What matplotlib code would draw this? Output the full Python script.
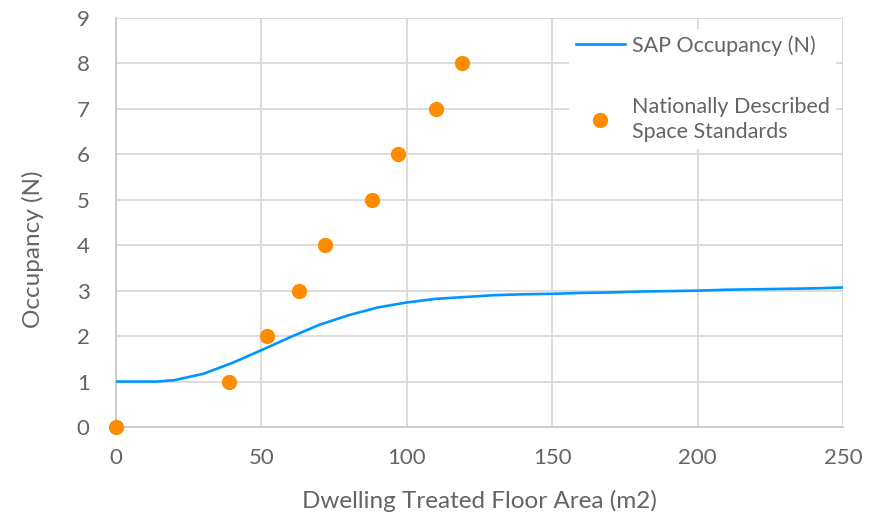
import matplotlib
matplotlib.use("Agg")
import matplotlib.pyplot as plt

# SAP occupancy curve
sap_area = [0, 10, 14, 20, 30, 40, 50, 60, 70, 80, 90, 100, 110, 120, 130, 140,
            150, 160, 170, 180, 190, 200, 210, 220, 230, 240, 250]
sap_occ = [1.0, 1.0, 1.0, 1.03, 1.17, 1.41, 1.69, 1.98, 2.25, 2.46, 2.63, 2.74,
           2.82, 2.86, 2.90, 2.92, 2.93, 2.95, 2.96, 2.98, 2.99, 3.00, 3.02,
           3.03, 3.04, 3.05, 3.07]

# Nationally Described Space Standards points
ndss_area = [0, 39, 52, 63, 72, 88, 97, 110, 119]
ndss_occ = [0, 1, 2, 3, 4, 5, 6, 7, 8]

plt.rcParams['font.family'] = ['Lato', 'DejaVu Sans']
text_col = '#646464'
grid_col = '#d9d9d9'

fig = plt.figure(figsize=(8.83, 5.12), dpi=100)
ax = fig.add_axes([0.1314, 0.166, 0.8233, 0.799])

ax.plot(sap_area, sap_occ, color='#0096ff', lw=1.9, label='SAP Occupancy (N)', zorder=3)
ax.plot(ndss_area, ndss_occ, 'o', color='#ff8c00', ms=11, mec='none',
        label='Nationally Described\nSpace Standards', zorder=4, clip_on=False)

ax.set_xlim(0, 250)
ax.set_ylim(0, 9)
ax.set_xticks(range(0, 251, 50))
ax.set_yticks(range(0, 10))
ax.grid(True, color=grid_col, lw=1.3)
ax.set_axisbelow(True)
for s in ['top', 'right']:
    ax.spines[s].set_visible(False)
for s in ['left', 'bottom']:
    ax.spines[s].set_color('#c8c8c8')
    ax.spines[s].set_linewidth(1.3)
ax.tick_params(length=0, labelsize=16, colors=text_col)
ax.tick_params(axis='x', pad=15)
ax.tick_params(axis='y', pad=19)

ax.set_xlabel('Dwelling Treated Floor Area (m2)', fontsize=17.5, color=text_col, labelpad=16)
ax.set_ylabel('Occupancy (N)', fontsize=17.5, color=text_col)
ax.yaxis.set_label_coords(-0.099, 0.435)

leg = ax.legend(loc='upper right', bbox_to_anchor=(1.005, 1.0), frameon=True,
                fontsize=15.5, labelspacing=1.9, handlelength=2.3, handletextpad=0.3,
                borderpad=0.3)
leg.get_frame().set_facecolor('white')
leg.get_frame().set_edgecolor('none')
leg.get_frame().set_alpha(1)
for t in leg.get_texts():
    t.set_color(text_col)
    t.set_linespacing(1.35)

fig.savefig('out.png', dpi=100)
